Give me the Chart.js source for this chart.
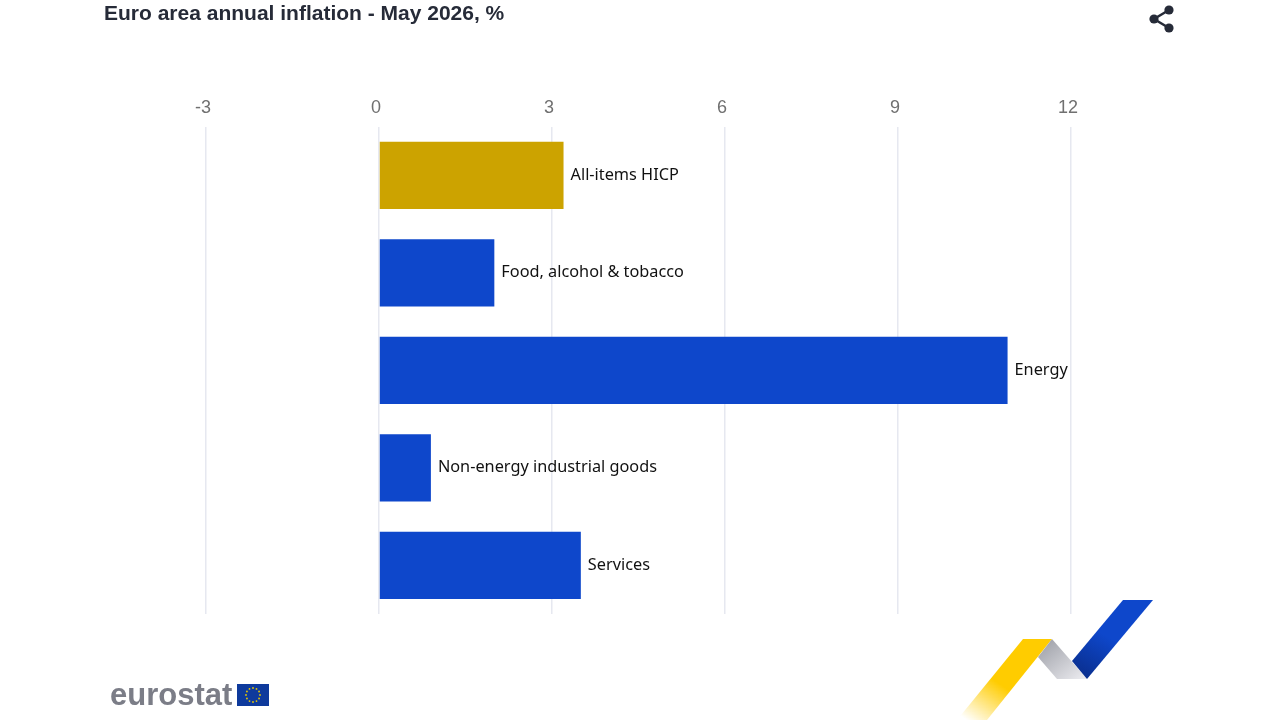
<!DOCTYPE html>
<html>
<head>
<meta charset="utf-8">
<title>Euro area annual inflation</title>
<script src="https://cdn.jsdelivr.net/npm/chart.js@4"></script>
<style>
  html, body { margin: 0; padding: 0; background: #fff; }
  #wrap { position: relative; width: 1280px; height: 720px; overflow: hidden; }
  #chart { position: absolute; left: 0; top: 0; }
  #title { position: absolute; left: 104px; top: 1px; font: bold 21px "Liberation Sans", Arial, sans-serif; color: #262b38; white-space: nowrap; }
  #share, #ribbon, #flag { position: absolute; }
  #brand { position: absolute; left: 110px; top: 677px; font: bold 31px "Liberation Sans", Arial, sans-serif; color: #7b7d87; }
</style>
</head>
<body>
<div id="wrap">
  <canvas id="chart" width="1280" height="720"></canvas>
  <div id="title">Euro area annual inflation - May 2026, %</div>

  <svg id="share" style="left:1146px;top:3px" width="32" height="32" viewBox="0 0 32 32">
    <path d="M23 7 L8 16 L23 25" fill="none" stroke="#262b38" stroke-width="2.5"/>
    <circle cx="23" cy="7" r="4.6" fill="#262b38"/>
    <circle cx="8" cy="16" r="4.6" fill="#262b38"/>
    <circle cx="23" cy="25" r="4.6" fill="#262b38"/>
  </svg>

  <div id="brand">eurostat</div>
  <svg id="flag" style="left:237px;top:684px" width="32" height="22" viewBox="0 0 32 22">
    <rect width="32" height="22" fill="#0e3a9c"/>
    <g id="stars" fill="#e8c800"></g>
  </svg>

  <svg id="ribbon" style="left:950px;top:595px" width="220" height="125" viewBox="0 0 220 125">
    <defs>
      <linearGradient id="gy" x1="0.75" y1="0.2" x2="0.1" y2="1">
        <stop offset="0.45" stop-color="#ffcc00"/>
        <stop offset="1" stop-color="#ffcc00" stop-opacity="0"/>
      </linearGradient>
      <linearGradient id="gg" x1="0" y1="0" x2="1" y2="1">
        <stop offset="0" stop-color="#999ba3"/>
        <stop offset="1" stop-color="#eeeef2"/>
      </linearGradient>
      <linearGradient id="gb" x1="0.8" y1="0" x2="0.2" y2="1">
        <stop offset="0.5" stop-color="#0e47cb"/>
        <stop offset="1" stop-color="#0a2f8f"/>
      </linearGradient>
    </defs>
    <path d="M7 125 L73 44 L102 44 L37 125 Z" fill="url(#gy)"/>
    <path d="M88 62 L102 44 L137 84 L107 84 Z" fill="url(#gg)"/>
    <path d="M122 66 L173 5 L203 5 L137 84 Z" fill="url(#gb)"/>
  </svg>
</div>

<script>
const categories = ['All-items HICP', 'Food, alcohol & tobacco', 'Energy', 'Non-energy industrial goods', 'Services'];
const inflation = [3.2, 2.0, 10.9, 0.9, 3.5];
const barColors = ['#cca300', '#0e47cb', '#0e47cb', '#0e47cb', '#0e47cb'];
const xTicks = [-3, 0, 3, 6, 9, 12];

// EU flag stars
const stars = document.getElementById('stars');
for (let i = 0; i < 12; i++) {
  const a = i * Math.PI / 6;
  const c = document.createElementNS('http://www.w3.org/2000/svg', 'circle');
  c.setAttribute('cx', 16 + 7 * Math.cos(a));
  c.setAttribute('cy', 11 + 7 * Math.sin(a));
  c.setAttribute('r', 0.9);
  stars.appendChild(c);
}

// category name goes right after the end of each bar
const barLabels = {
  id: 'barLabels',
  afterDatasetsDraw(chart) {
    const ctx = chart.ctx;
    ctx.save();
    ctx.font = '16.3px "Noto Sans", sans-serif';
    ctx.fillStyle = '#111';
    ctx.textBaseline = 'middle';
    chart.getDatasetMeta(0).data.forEach((bar, i) => {
      ctx.fillText(categories[i], bar.x + 7, bar.y);
    });
    ctx.restore();
  }
};

new Chart(document.getElementById('chart'), {
  type: 'bar',
  data: {
    labels: categories,
    datasets: [{
      data: inflation,
      backgroundColor: barColors,
      categoryPercentage: 1,
      barPercentage: 0.69
    }]
  },
  options: {
    indexAxis: 'y',
    responsive: false,
    animation: false,
    layout: { padding: { left: 206, right: 209, top: 89, bottom: 106 } },
    plugins: { legend: { display: false }, tooltip: { enabled: false } },
    scales: {
      x: {
        position: 'top',
        min: -3,
        max: 12,
        afterBuildTicks(axis) { axis.ticks = xTicks.map(v => ({ value: v })); },
        grid: { color: '#e6e8f0', lineWidth: 1.5, drawTicks: false },
        border: { display: false },
        ticks: {
          color: '#707070',
          labelOffset: -3,
          padding: 8,
          maxRotation: 0,
          font: { family: '"Liberation Sans", Arial, sans-serif', size: 18 }
        }
      },
      y: { display: false }
    }
  },
  plugins: [barLabels]
});
</script>
</body>
</html>
